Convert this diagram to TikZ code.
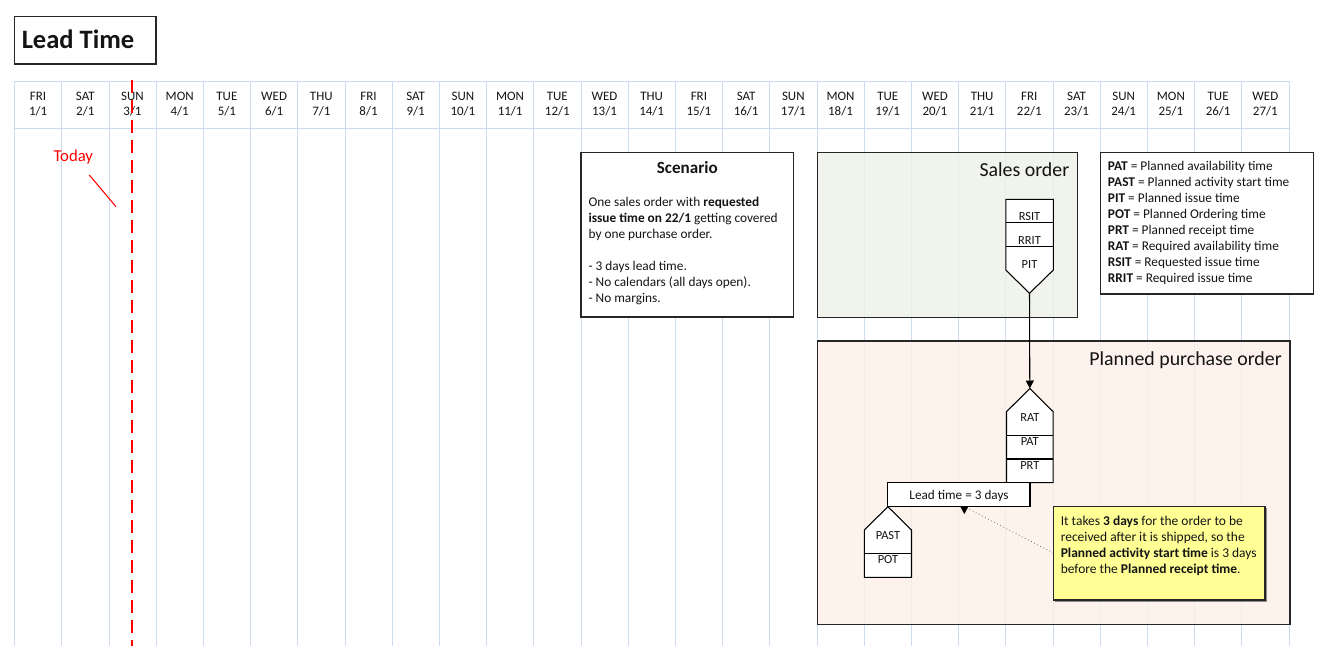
\documentclass[tikz,border=0pt]{standalone}
\usepackage{fontspec}
\setmainfont{Carlito}
\usetikzlibrary{arrows.meta}

\definecolor{gridline}{RGB}{206,219,238}
\definecolor{salesfill}{RGB}{237,241,231}
\definecolor{purchfill}{RGB}{252,240,231}
\definecolor{notefill}{RGB}{255,255,150}
\definecolor{todayred}{RGB}{255,0,0}
\definecolor{ink}{RGB}{20,20,20}

\begin{document}
\begin{tikzpicture}[x=0.75pt,y=-0.75pt,
  gridrule/.style={draw=gridline, line width=0.6pt},
  hdr/.style={font=\fontsize{9.7}{11}\selectfont, text=ink, inner sep=0pt, anchor=base},
  body/.style={font=\fontsize{10}{12}\selectfont, text=ink, inner sep=0pt, anchor=base west},
  cell/.style={font=\fontsize{9.3}{11}\selectfont, text=ink, inner sep=0pt, anchor=base},
  frame/.style={draw=black!85, line width=0.9pt},
  stackbox/.style={draw=black, line width=0.8pt, fill=white},
  heading/.style={font=\fontsize{14.9}{17}\selectfont, text=ink, inner sep=0pt, anchor=base east},
]
\useasboundingbox (0,0) rectangle (1327,646);

% title box
\draw[frame, line width=1pt] (14.2,16.8) rectangle (156,64);
\node[inner sep=0pt, anchor=base west, text=ink, font=\bfseries\fontsize{19.9}{22}\selectfont] (title) at (21.5,48.3) {Lead Time};

% calendar grid
\foreach \i in {0,...,27}
  \draw[gridrule] ({14.5+47.2*\i},81) -- ({14.5+47.2*\i},646);
\draw[gridrule] (14.5,81) -- (1289.5,81);
\draw[gridrule] (14.5,128) -- (1289.5,128);

% day headers
\foreach \d [count=\n] in {FRI,SAT,SUN,MON,TUE,WED,THU,FRI,SAT,SUN,MON,TUE,WED,THU,FRI,SAT,SUN,MON,TUE,WED,THU,FRI,SAT,SUN,MON,TUE,WED} {
  \node[hdr] (day\n) at ({14.5+47.2*(\n-0.5)},100) {\d};
  \node[hdr] (date\n) at ({14.5+47.2*(\n-0.5)},115) {\n/1};
}

% today marker
\draw[todayred, line width=1.5pt, dash pattern=on 9.75pt off 5.25pt] (132.3,80) -- (132.3,646);
\node[anchor=base west, inner sep=0pt, text=todayred, font=\fontsize{12.5}{14}\selectfont] (today) at (53.3,161.7) {Today};
\coordinate (todaytail) at (89.3,175);
\coordinate (todayhead) at (116,206.7);
\draw[todayred, line width=0.8pt] (todaytail) -- (todayhead);

% scenario box
\draw[frame, fill=white] (581,152.3) rectangle (793.5,317);
\node[inner sep=0pt, anchor=base, text=ink, font=\bfseries\fontsize{12.8}{14}\selectfont] (scntitle) at (687.3,173.3) {Scenario};
\node[body] (scn1) at (588.3,206.7) {One sales order with \textbf{requested}};
\node[body] (scn2) at (588.3,222.7) {\textbf{issue time on 22/1} getting covered};
\node[body] (scn3) at (588.3,238.5) {by one purchase order.};
\node[body] (scn4) at (588.3,270.3) {- 3 days lead time.};
\node[body] (scn5) at (588.3,286.3) {- No calendars (all days open).};
\node[body] (scn6) at (588.3,302.3) {- No margins.};

% sales order panel
\fill[salesfill, fill opacity=0.8] (817.3,152.3) rectangle (1077.3,317.3);
\draw[frame] (817.3,152.3) rectangle (1077.3,317.3);
\node[heading] (salesttl) at (1069.5,176.7) {Sales order};

% planned purchase order panel
\fill[purchfill, fill opacity=0.8] (817.3,341) rectangle (1290,624.5);
\draw[frame] (817.3,341) rectangle (1290,624.5);
\node[heading] (purchttl) at (1282,365) {Planned purchase order};

% legend
\draw[frame, fill=white] (1100.7,152.3) rectangle (1313.3,294);
\foreach \a/\b [count=\k] in {PAT/Planned availability time,PAST/Planned activity start time,PIT/Planned issue time,POT/Planned Ordering time,PRT/Planned receipt time,RAT/Required availability time,RSIT/Requested issue time,RRIT/Required issue time}
  \node[body] (leg\k) at (1107.7,{170.7+16*(\k-1)}) {\textbf{\a} = \b};

% sales order time stack
\draw[stackbox] (1005.8,199.3) -- (1053.3,199.3) -- (1053.3,270) -- (1029.5,293.3) -- (1005.8,270) -- cycle;
\draw[stackbox] (1005.8,222.7) -- (1053.3,222.7);
\draw[stackbox] (1005.8,246.7) -- (1053.3,246.7);
\node[cell] (rsit) at (1029.5,220.3) {RSIT};
\node[cell] (rrit) at (1029.5,244.3) {RRIT};
\node[cell] (pit) at (1029.5,268.5) {PIT};
\coordinate (pittip) at (1029.5,293.3);

% purchase order receipt stack
\draw[stackbox] (1029.8,388.5) -- (1053.2,411.7) -- (1053.2,482.7) -- (1006.5,482.7) -- (1006.5,411.7) -- cycle;
\draw[stackbox] (1006.5,435.7) -- (1053.2,435.7);
\draw[stackbox] (1006.5,459) -- (1053.2,459);
\node[cell] (rat) at (1029.8,421.5) {RAT};
\node[cell] (pat) at (1029.8,445.5) {PAT};
\node[cell] (prt) at (1029.8,469) {PRT};
\coordinate (rattop) at (1029.8,388.5);

\draw[line width=0.8pt, -{Triangle[width=6pt,length=6pt]}] (pittip) -- (rattop);

% lead time bar
\draw[stackbox] (887.7,482.7) rectangle (1030,506.7);
\node[cell, font=\fontsize{9.9}{11}\selectfont] (leadtxt) at (959,499) {Lead time = 3 days};
\coordinate (leadmark) at (964.3,506.7);

% purchase order start stack
\draw[stackbox] (887.9,506.7) -- (911.5,530) -- (911.5,577.3) -- (864.3,577.3) -- (864.3,530) -- cycle;
\draw[stackbox] (864.3,553.3) -- (911.5,553.3);
\node[cell] (past) at (887.9,539) {PAST};
\node[cell] (pot) at (887.9,563.3) {POT};

% explanatory note
\fill[black!45] (1055,508.4) rectangle (1266.7,601.7);
\draw[frame, fill=notefill] (1053.3,506.7) rectangle (1265,600);
\coordinate (notein) at (1053.3,553);
\node[body, font=\fontsize{10.1}{12}\selectfont] (note1) at (1060.5,525.5) {It takes \textbf{3 days} for the order to be};
\node[body, font=\fontsize{10.1}{12}\selectfont] (note2) at (1060.5,541.5) {received after it is shipped, so the};
\node[body, font=\fontsize{10.1}{12}\selectfont] (note3) at (1060.5,557.3) {\textbf{Planned activity start time} is 3 days};
\node[body, font=\fontsize{10.1}{12}\selectfont] (note4) at (1060.5,573.2) {before the \textbf{Planned receipt time}.};

\draw[black!55, line width=0.6pt, dotted] (notein) -- (leadmark);
\fill[black] (960.3,506.7) -- (968.3,506.7) -- (964.3,514) -- cycle;

\end{tikzpicture}
\end{document}
